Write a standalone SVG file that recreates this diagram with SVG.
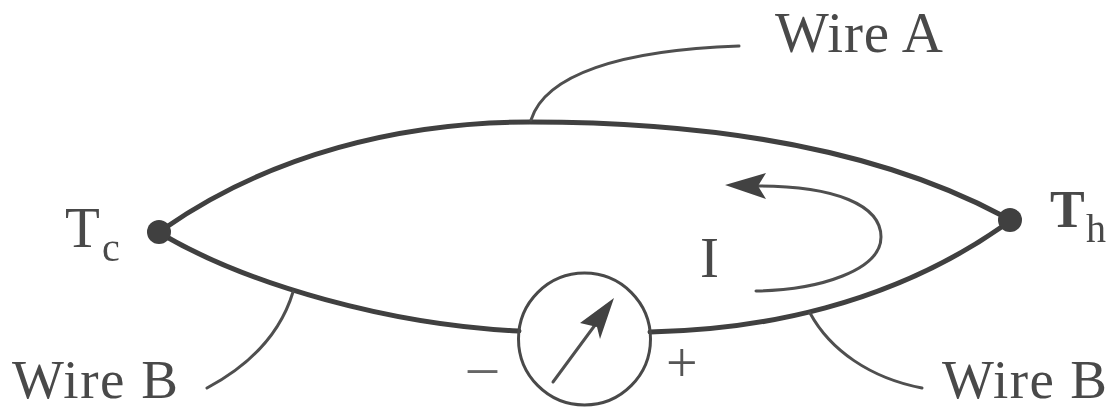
<svg xmlns="http://www.w3.org/2000/svg" width="1119" height="410" viewBox="0 0 1119 410">
<style>
.t{font-family:"Liberation Serif","Times New Roman",serif;fill:#4a4a4a;font-size:57px}
.b{font-size:55px}
.s{font-size:40px}
.w{fill:none;stroke:#3f3f3f;stroke-width:5;stroke-linecap:round}
.l{fill:none;stroke:#4f4f4f;stroke-width:3;stroke-linecap:round}
.h{fill:#424242}
</style>
<defs><filter id="soft" x="-5%" y="-5%" width="110%" height="110%"><feGaussianBlur stdDeviation="0.6"/></filter></defs>
<rect width="1119" height="410" fill="#fff"/>
<g filter="url(#soft)">
<g id="connectors">
<path class="w" d="M165 228C270 155 400 122 530 122C700 122 870 145 1003 216"/>
<path class="w" d="M165 236C250 285 390 325 519 331"/>
<path class="w" d="M650 332C760 330 890 305 1003 226"/>
<path class="l" d="M531 120C545 75 620 50 739 46"/>
<path class="l" d="M293 292C280 335 250 365 207 388"/>
<path class="l" d="M810 313C830 350 870 378 922 388"/>
<path class="l" d="M756 291C820 290 881 270 881 237C881 205 835 186 758 186"/>
<path class="h" d="M725 185L766 173L758 186L766 199Z"/>
<path class="l" d="M553 382L598 321"/>
<path class="h" d="M614 298L600 339L597 327L580 323Z"/>
</g>
<g id="node-tc"><circle cx="159" cy="232" r="12" fill="#3f3f3f"/><text class="t" x="65" y="247">T</text><text class="t s" x="102" y="261">c</text></g>
<g id="node-th"><circle cx="1010" cy="220" r="12" fill="#3f3f3f"/><text class="t" x="1050" y="227" font-weight="bold" style="font-size:52px">T</text><text class="t s" x="1086" y="242">h</text></g>
<g id="meter"><circle cx="584.5" cy="339" r="66" fill="none" stroke="#4a4a4a" stroke-width="3"/></g>
<g id="labels">
<text class="t" x="775" y="52" textLength="168">Wire A</text>
<text class="t b" x="12" y="398" textLength="166">Wire B</text>
<text class="t b" x="942" y="398" textLength="165">Wire B</text>
<text class="t" x="700" y="277">I</text>
<text class="t" x="468" y="385" style="font-size:58px;fill:#666">–</text>
<text class="t" x="666" y="382" style="font-size:56px;fill:#555">+</text>
</g>
</g>
</svg>
